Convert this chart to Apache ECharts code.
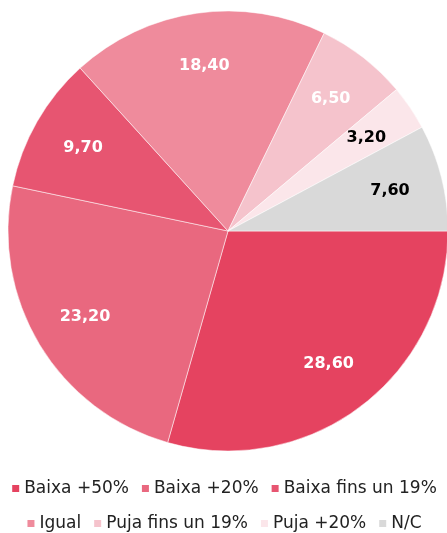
<!DOCTYPE html>
<html>
<head>
<meta charset="utf-8">
<script src="https://cdn.jsdelivr.net/npm/echarts@6/dist/echarts.min.js"></script>
<style>
  html, body { margin: 0; padding: 0; background: #fff; }
  #chart { width: 447px; height: 533px; }
</style>
</head>
<body>
<div id="chart"></div>
<script>
// categories / values
var categories = ['Baixa +50%', 'Baixa +20%', 'Baixa fins un 19%', 'Igual', 'Puja fins un 19%', 'Puja +20%', 'N/C'];
var values = [28.60, 23.20, 9.70, 18.40, 6.50, 3.20, 7.60];
var colors = ['#e54360', '#e9687f', '#e75571', '#ef8b9c', '#f5c3cc', '#fbe6ea', '#d9d9d9'];
var labelColors = ['#fff', '#fff', '#fff', '#fff', '#fff', '#000', '#000'];

var FONT = '"DejaVu Sans", "Noto Sans", sans-serif';

var baseData = [];
var labelData = [];
for (var i = 0; i < categories.length; i++) {
  baseData.push({ name: categories[i], value: values[i], itemStyle: { color: colors[i] } });
  labelData.push({
    name: categories[i], value: values[i],
    label: { color: labelColors[i] }
  });
}

function legendRow(names, top) {
  return {
    data: names,
    left: 'center',
    top: top,
    padding: 0,
    itemWidth: 9,
    itemHeight: 9,
    itemGap: 11,
    icon: 'rect',
    textStyle: { fontFamily: FONT, fontSize: 17, color: '#222', padding: [0, 0, 0, -1] }
  };
}

var chart = echarts.init(document.getElementById('chart'), null, { renderer: 'canvas' });
var option = {
  animation: false,
  color: colors,
  legend: [
    legendRow(categories.slice(0, 3), 480),
    legendRow(categories.slice(3), 515)
  ],
  series: [
    {
      type: 'pie',
      center: [228, 231],
      radius: 220,
      startAngle: 0,
      clockwise: true,
      label: { show: false },
      labelLine: { show: false },
      itemStyle: { borderColor: '#fff', borderWidth: 0.5 },
      emphasis: { disabled: true },
      data: baseData
    },
    {
      // transparent ring that only carries the value labels
      type: 'pie',
      center: [228, 231],
      radius: [108, 220],
      startAngle: 0,
      clockwise: true,
      silent: true,
      itemStyle: { color: 'rgba(0,0,0,0)' },
      labelLine: { show: false },
      label: {
        show: true,
        position: 'inside',
        fontFamily: FONT,
        fontWeight: 'bold',
        fontSize: 16,
        formatter: function (p) { return p.value.toFixed(2).replace('.', ','); }
      },
      emphasis: { disabled: true },
      data: labelData
    }
  ]
};
chart.setOption(option);
</script>
</body>
</html>
